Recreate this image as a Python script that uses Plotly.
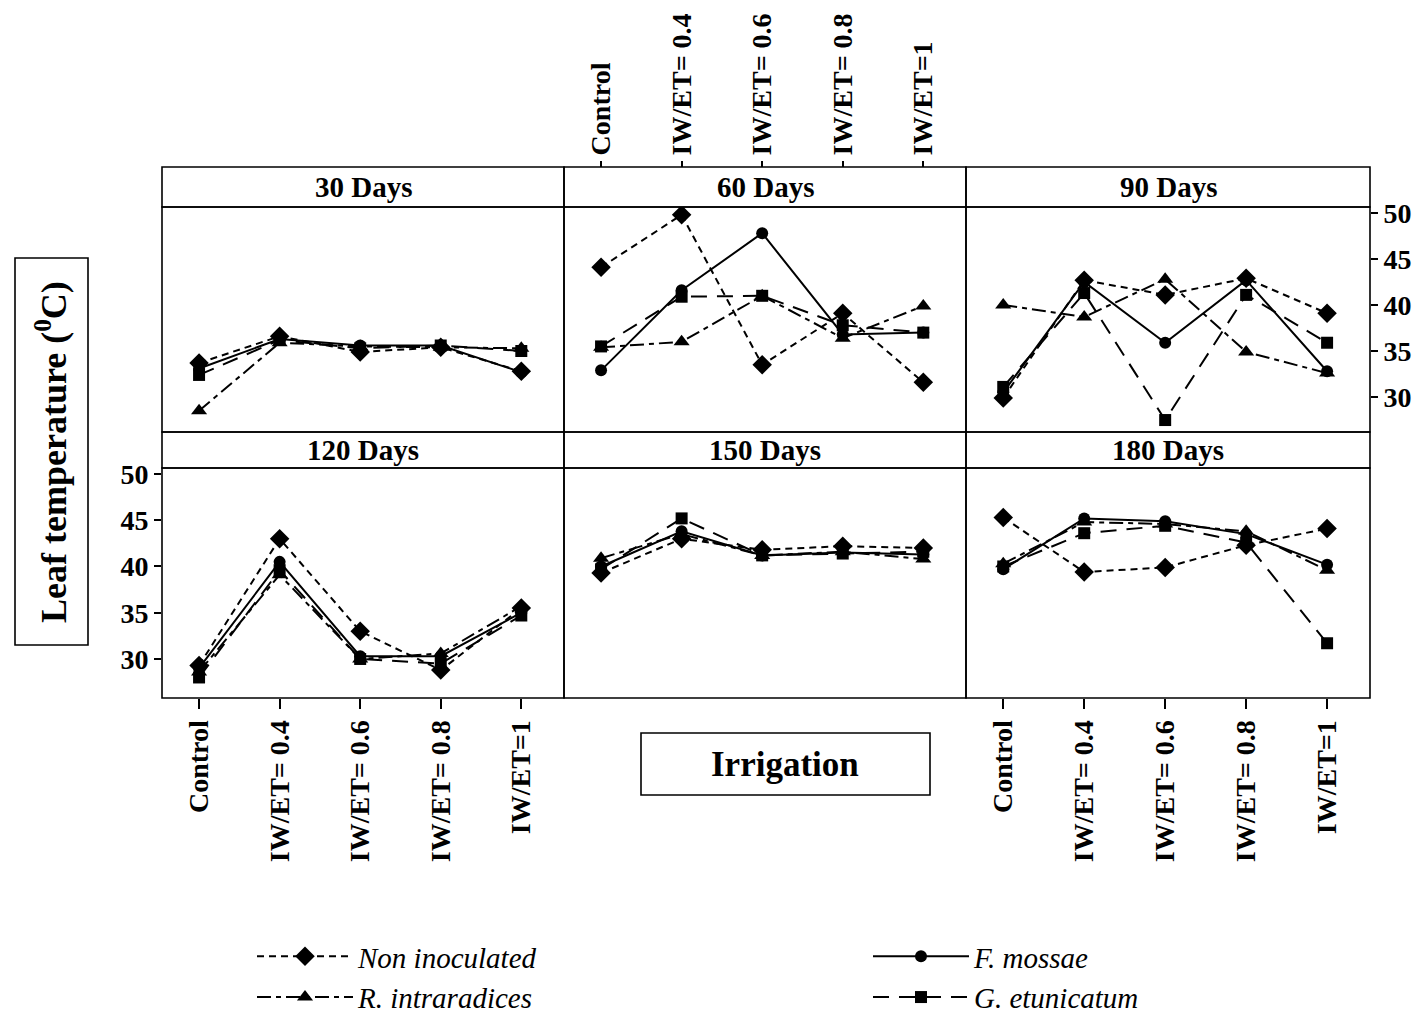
import plotly.graph_objects as go

# page offset (browser body margin) and figure size
OFF = 8
FW, FH = 1412, 1010

categories = ["Control", "IW/ET= 0.4", "IW/ET= 0.6", "IW/ET= 0.8", "IW/ET=1"]
panels = ["30 Days", "60 Days", "90 Days", "120 Days", "150 Days", "180 Days"]

non_inoculated = [
    [33.7, 36.6, 34.9, 35.4, 32.8],
    [44.1, 49.8, 33.5, 39.1, 31.6],
    [29.9, 42.7, 41.1, 42.9, 39.1],
    [29.3, 43.0, 33.0, 28.8, 35.5],
    [39.3, 43.0, 41.8, 42.2, 42.0],
    [45.3, 39.4, 39.9, 42.3, 44.1],
]
f_mossae = [
    [33.1, 36.3, 35.6, 35.6, 32.7],
    [32.9, 41.6, 47.8, 36.8, 37.0],
    [30.5, 42.5, 35.9, 42.7, 32.8],
    [29.0, 40.5, 30.3, 30.3, 35.0],
    [40.0, 43.8, 41.2, 41.5, 41.3],
    [39.7, 45.2, 44.9, 43.5, 40.2],
]
r_intraradices = [
    [28.5, 35.9, 35.5, 35.4, 35.3],
    [35.4, 36.0, 41.0, 36.4, 39.9],
    [40.0, 38.7, 42.8, 34.9, 32.6],
    [28.6, 39.1, 30.0, 30.6, 35.7],
    [40.9, 43.5, 41.2, 41.6, 40.8],
    [40.3, 44.8, 44.6, 43.8, 39.6],
]
g_etunicatum = [
    [32.4, 36.2, 35.3, 35.6, 35.0],
    [35.5, 40.9, 41.0, 37.8, 37.0],
    [31.1, 41.3, 27.5, 41.1, 35.9],
    [28.0, 39.6, 30.0, 29.5, 34.7],
    [39.7, 45.2, 41.2, 41.4, 41.6],
    [40.0, 43.6, 44.4, 42.6, 31.7],
]
y_ticks = [30, 35, 40, 45, 50]

series = [
    ("<i>Non inoculated</i>", non_inoculated, "diamond", 15, "7px,5px"),
    ("<i>F. mossae</i>", f_mossae, "circle", 12, "solid"),
    ("<i>R. intraradices</i>", r_intraradices, "triangle-up", 14, "14px,5px,5px,5px"),
    ("<i>G. etunicatum</i>", g_etunicatum, "square", 12, "16px,10px"),
]


def px(x):
    return (x - OFF) / FW


def py(y):
    return 1 - (y - OFF) / FH


SERIF = "Liberation Serif"
x_edges = [162, 564, 966, 1370]
top_plot = (207, 432)
bot_plot = (468, 698)
top_strip_h = 40
bot_strip_h = 36

fig = go.Figure()

for p in range(6):
    ax = "" if p == 0 else str(p + 1)
    for (name, data, sym, msize, dash) in series:
        fig.add_trace(go.Scatter(
            x=categories, y=data[p], mode="lines+markers",
            name=name, legendgroup=name, showlegend=(p == 0),
            xaxis="x" + ax, yaxis="y" + ax,
            line=dict(color="black", width=2, dash=dash),
            marker=dict(symbol=sym, size=msize, color="black"),
        ))

layout = dict(
    width=FW, height=FH, margin=dict(l=0, r=0, t=0, b=0, autoexpand=False),
    paper_bgcolor="white", plot_bgcolor="white",
    font=dict(family=SERIF, color="black"),
    showlegend=True,
    legend=dict(orientation="h", x=px(252), xanchor="left", y=py(931), yanchor="top",
                entrywidth=505, entrywidthmode="pixels",
                font=dict(family=SERIF, size=29, color="black"),
                bgcolor="rgba(0,0,0,0)", tracegroupgap=0, itemwidth=96),
)

shapes = []
annotations = []
tickfont = dict(family=SERIF, size=28, color="black", weight=700)

for p in range(6):
    row, col = divmod(p, 3)
    ax = "" if p == 0 else str(p + 1)
    if row == 0:
        p0, p1 = top_plot
        rng = [26.2, 50.65]
        strip_h = top_strip_h
    else:
        p0, p1 = bot_plot
        rng = [25.78, 50.65]
        strip_h = bot_strip_h
    xa = dict(domain=[px(x_edges[col]), px(x_edges[col + 1])], anchor="y" + ax,
              type="category", range=[-0.46, 4.53], showgrid=False, zeroline=False,
              showline=False, ticks="", showticklabels=False,
              tickfont=tickfont, tickangle=-90)
    ya = dict(domain=[py(p1), py(p0)], anchor="x" + ax, range=rng, showgrid=False,
              zeroline=False, showline=False, ticks="", showticklabels=False,
              tickvals=y_ticks, tickfont=tickfont)
    if p == 1:
        xa.update(side="top", anchor="free", position=py(167),
                  ticks="outside", ticklen=6, tickwidth=1.5, tickcolor="black",
                  showticklabels=True)
    if p in (3, 5):
        xa.update(side="bottom", ticks="outside", ticklen=10, tickwidth=1.5,
                  tickcolor="black", showticklabels=True)
    if p == 3:
        ya.update(side="left", ticks="outside", ticklen=7, tickwidth=1.5,
                  tickcolor="black", showticklabels=True)
    if p == 2:
        ya.update(side="right", ticks="outside", ticklen=7, tickwidth=1.5,
                  tickcolor="black", showticklabels=True)
    layout["xaxis" + ax] = xa
    layout["yaxis" + ax] = ya

    xr = "x" + ax + " domain"
    yr = "y" + ax + " domain"
    ph = p1 - p0
    shapes.append(dict(type="rect", xref=xr, yref=yr, x0=0, x1=1, y0=0, y1=1,
                       line=dict(color="black", width=1.6)))
    shapes.append(dict(type="rect", xref=xr, yref=yr, x0=0, x1=1, y0=1,
                       y1=1 + strip_h / ph, line=dict(color="black", width=1.6)))
    annotations.append(dict(xref=xr, yref=yr, x=0.5, y=1 + (strip_h / 2) / ph,
                            text=panels[p], showarrow=False,
                            font=dict(family=SERIF, size=29, color="black", weight=700),
                            xanchor="center", yanchor="middle"))

# y-axis title box
shapes.append(dict(type="rect", xref="paper", yref="paper",
                   x0=px(15), x1=px(88), y0=py(645), y1=py(258),
                   line=dict(color="black", width=1.6)))
annotations.append(dict(xref="paper", yref="paper", x=px(52), y=py(452),
                        text="Leaf temperature (<sup>0</sup>C)", textangle=-90,
                        showarrow=False, xanchor="center", yanchor="middle",
                        font=dict(family=SERIF, size=36, color="black", weight=700)))
# x-axis title box
shapes.append(dict(type="rect", xref="paper", yref="paper",
                   x0=px(641), x1=px(930), y0=py(795), y1=py(733),
                   line=dict(color="black", width=1.6)))
annotations.append(dict(xref="paper", yref="paper", x=px(785), y=py(764),
                        text="Irrigation", showarrow=False,
                        xanchor="center", yanchor="middle",
                        font=dict(family=SERIF, size=35, color="black", weight=700)))

layout["shapes"] = shapes
layout["annotations"] = annotations
fig.update_layout(**layout)

fig.write_html("out.html")
